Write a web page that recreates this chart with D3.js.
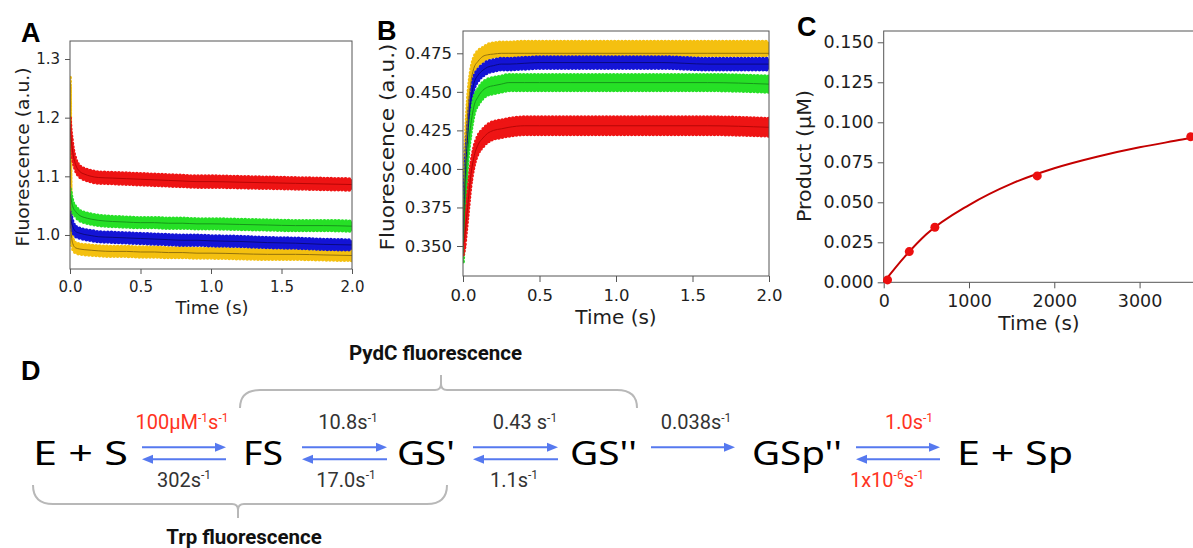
<!DOCTYPE html>
<html>
<head>
<meta charset="utf-8">
<script src="https://cdn.jsdelivr.net/npm/d3@7"></script>
<style>
  body { margin: 0; background: #fff; }
  svg { display: block; }
</style>
</head>
<body>
<svg id="fig" width="1193" height="548"></svg>
<script>
// ---- panel A: Trp fluorescence (stopped flow)
const timeA   = [0, 0.005, 0.01, 0.02, 0.04, 0.07, 0.1, 0.15, 0.2, 0.3, 0.4, 0.5, 0.6, 0.7, 0.8, 0.9, 1.0, 1.2, 1.4, 1.6, 1.8, 2.0]
const yellowA = [1.26, 1.05, 1.0, 0.985, 0.978, 0.976, 0.975, 0.974, 0.973, 0.972, 0.972, 0.971, 0.971, 0.970, 0.970, 0.969, 0.969, 0.968, 0.967, 0.967, 0.966, 0.965]
const blueA   = [1.04, 1.03, 1.022, 1.014, 1.006, 1.003, 1.001, 0.999, 0.997, 0.996, 0.995, 0.994, 0.993, 0.992, 0.991, 0.991, 0.990, 0.989, 0.987, 0.986, 0.984, 0.983]
const greenA  = [1.07, 1.065, 1.058, 1.048, 1.040, 1.033, 1.030, 1.027, 1.025, 1.023, 1.022, 1.021, 1.021, 1.020, 1.020, 1.019, 1.019, 1.018, 1.017, 1.016, 1.016, 1.015]
const redA    = [1.19, 1.17, 1.16, 1.14, 1.12, 1.108, 1.104, 1.100, 1.098, 1.097, 1.096, 1.095, 1.094, 1.093, 1.092, 1.091, 1.091, 1.090, 1.089, 1.088, 1.087, 1.086]
const spreadA = [0.008, 0.008, 0.008, 0.009]   // half width of the scatter band (yellow, blue, green, red)
const yTicksA = [1.0, 1.1, 1.2, 1.3]
const xTicks  = [0, 0.5, 1.0, 1.5, 2.0]

// ---- panel B: PydC fluorescence
const timeB      = [0, 0.01, 0.02, 0.03, 0.05, 0.07, 0.1, 0.13, 0.16, 0.2, 0.25, 0.3, 0.4, 0.5, 0.7, 1.0, 1.3, 1.6, 2.0]
const yellowB    = [0.360, 0.395, 0.420, 0.438, 0.458, 0.467, 0.472, 0.474, 0.476, 0.477, 0.4775, 0.4775, 0.478, 0.478, 0.478, 0.478, 0.478, 0.478, 0.478]
const yellowFitB = [0.355, 0.390, 0.415, 0.433, 0.455, 0.465, 0.470, 0.473, 0.474, 0.4745, 0.475, 0.475, 0.475, 0.475, 0.475, 0.475, 0.475, 0.475, 0.475]
const blueB      = [0.350, 0.380, 0.405, 0.420, 0.443, 0.455, 0.461, 0.464, 0.466, 0.467, 0.468, 0.468, 0.4685, 0.469, 0.469, 0.469, 0.469, 0.468, 0.468]
const greenB     = [0.345, 0.370, 0.395, 0.410, 0.428, 0.440, 0.447, 0.451, 0.453, 0.454, 0.455, 0.456, 0.456, 0.456, 0.456, 0.456, 0.456, 0.456, 0.455]
const redB       = [0.350, 0.355, 0.365, 0.375, 0.395, 0.407, 0.416, 0.420, 0.423, 0.425, 0.426, 0.427, 0.428, 0.428, 0.428, 0.428, 0.428, 0.428, 0.427]
const spreadB    = [0.0045, 0.0035, 0.005, 0.0055]
const yTicksB    = [0.350, 0.375, 0.400, 0.425, 0.450, 0.475]

// ---- panel C: product formation
const timeC    = [45, 300, 600, 1800, 3600]
const productC = [0.0015, 0.0192, 0.0344, 0.0665, 0.0910]
const fitTimeC = [0, 250, 500, 1000, 1500, 2000, 2500, 3000, 3500, 3700]
const fitC     = [0, 0.0162, 0.0300, 0.0483, 0.0617, 0.0713, 0.0785, 0.0844, 0.0892, 0.0912]
const yTicksC  = [0, 0.025, 0.05, 0.075, 0.1, 0.125, 0.15]
const xTicksC  = [0, 1000, 2000, 3000]

// ---- panel D: kinetic scheme
const species      = ["E + S", "FS", "GS'", "GS''", "GSp''", "E + Sp"]
const forwardRates = ["100µM{-1}s{-1}", "10.8s{-1}", "0.43 s{-1}", "0.038s{-1}", "1.0s{-1}"]
const reverseRates = ["302s{-1}", "17.0s{-1}", "1.1s{-1}", null, "1x10{-6}s{-1}"]
const forwardFixed = [true, false, false, false, true]   // shown in red
const reverseFixed = [false, false, false, false, true]

// colours
const bandColors = ["#f4c010", "#1414d6", "#26e026", "#ee1414"]
const fitColors  = ["#94720c", "#0a0a80", "#16961a", "#b80606"]
const arrowBlue  = "#5679ef"
const rateRed    = "#ff3322"
const bracketGray = "#b8b8b8"

const svg = d3.select("#fig")

function frame(g, x, y, yTicks, yFmt, xTicks, xFmt, f) {
  const [x0, x1] = x.range(), [y1, y0] = y.range()
  g.append("g")
    .attr("transform", `translate(${x0},0)`)
    .call(d3.axisLeft(y).tickValues(yTicks).tickFormat(d3.format(yFmt)).tickSize(f.tick).tickPadding(f.ypad).tickSizeOuter(0))
    .call(a => a.select(".domain").remove())
  g.append("g")
    .attr("transform", `translate(0,${y1})`)
    .call(d3.axisBottom(x).tickValues(xTicks).tickFormat(d3.format(xFmt)).tickSize(f.tick).tickPadding(f.xpad).tickSizeOuter(0))
    .call(a => a.select(".domain").remove())
  g.selectAll(".tick text").attr("font-family", "DejaVu Sans").attr("font-size", f.tickFont).attr("fill", "#1e1e1e")
  g.selectAll(".tick line").attr("stroke", "#555")
  g.append("rect")
    .attr("x", x0).attr("y", y0).attr("width", x1 - x0).attr("height", y1 - y0)
    .attr("fill", "none").attr("stroke", "#555").attr("stroke-width", 1)
}

function labels(g, xl, yl) {
  g.append("text").text("Time (s)")
    .attr("x", xl.x).attr("y", xl.y).attr("text-anchor", "middle")
    .attr("font-family", "DejaVu Sans").attr("font-size", xl.size).attr("fill", "#1e1e1e")
  g.append("text").text(yl.text)
    .attr("transform", `translate(${yl.x},${yl.y}) rotate(-90)`)
    .attr("text-anchor", "middle")
    .attr("textLength", yl.len).attr("lengthAdjust", "spacingAndGlyphs")
    .attr("font-family", "DejaVu Sans").attr("font-size", yl.size).attr("fill", "#1e1e1e")
}

function panelLetter(letter, x, y) {
  svg.append("text").text(letter).attr("x", x).attr("y", y)
    .attr("font-family", "Liberation Sans, Arial, sans-serif").attr("font-weight", "bold")
    .attr("font-size", 27).attr("fill", "#000")
}

function traces(g, id, x, y, times, centres, spreads, fits) {
  const [x0, x1] = x.range(), [y1, y0] = y.range()
  g.append("clipPath").attr("id", id)
    .append("rect").attr("x", x0).attr("y", y0).attr("width", x1 - x0).attr("height", y1 - y0)
  const plot = g.append("g").attr("clip-path", `url(#${id})`)
  centres.forEach((vals, i) => {
    const s = spreads[i]
    const area = d3.area().x((d, j) => x(times[j])).y0(d => y(d - s)).y1(d => y(d + s)).curve(d3.curveMonotoneX)
    plot.append("path").attr("d", area(vals)).attr("fill", bandColors[i])
    // dotted rim so the band edge reads like scattered markers
    ;[s, -s].forEach(off => {
      const edge = d3.line().x((d, j) => x(times[j])).y(d => y(d + off)).curve(d3.curveMonotoneX)
      plot.append("path").attr("d", edge(vals)).attr("fill", "none")
        .attr("stroke", bandColors[i]).attr("stroke-width", 4)
        .attr("stroke-linecap", "round").attr("stroke-dasharray", "0 3.6")
    })
  })
  fits.forEach((vals, i) => {
    const line = d3.line().x((d, j) => x(times[j])).y(d => y(d)).curve(d3.curveMonotoneX)
    plot.append("path").attr("d", line(vals)).attr("fill", "none")
      .attr("stroke", fitColors[i]).attr("stroke-width", 1)
  })
}

// ---------- A ----------
{
  const x = d3.scaleLinear().domain([0, 2]).range([70, 352])
  const y = d3.scaleLinear().domain([0.942, 1.3307]).range([269, 41])
  const g = svg.append("g")
  traces(g, "clipA", x, y, timeA, [yellowA, blueA, greenA, redA], spreadA, [yellowA, blueA, greenA, redA])
  frame(g, x, y, yTicksA, ".1f", xTicks, ".1f", { tick: 5, ypad: 5, xpad: 7, tickFont: 15 })
  labels(g, { x: 212, y: 314, size: 18 }, { text: "Fluorescence (a.u.)", x: 29, y: 157, len: 179, size: 18 })
  panelLetter("A", 21, 42)
}

// ---------- B ----------
{
  const x = d3.scaleLinear().domain([0, 2]).range([463, 769])
  const y = d3.scaleLinear().domain([0.33054, 0.48947]).range([276, 31])
  const g = svg.append("g")
  traces(g, "clipB", x, y, timeB, [yellowB, blueB, greenB, redB], spreadB, [yellowFitB, blueB, greenB, redB])
  frame(g, x, y, yTicksB, ".3f", xTicks, ".1f", { tick: 6, ypad: 5, xpad: 7, tickFont: 16.5 })
  labels(g, { x: 616, y: 324, size: 20 }, { text: "Fluorescence (a.u.)", x: 394, y: 147, len: 207, size: 20 })
  panelLetter("B", 377, 40)
}

// ---------- C ----------
{
  const x = d3.scaleLinear().domain([0, 3632]).range([883.7, 1193.5])
  const y = d3.scaleLinear().domain([0, 0.15706]).range([282.3, 31])
  const g = svg.append("g")
  frame(g, x, y, yTicksC, ".3f", xTicksC, "d", { tick: 6, ypad: 4, xpad: 6, tickFont: 17.5 })
  const line = d3.line().x((d, j) => x(fitTimeC[j])).y(d => y(d)).curve(d3.curveMonotoneX)
  g.append("path").attr("d", line(fitC)).attr("fill", "none").attr("stroke", "#c40000").attr("stroke-width", 2)
  g.selectAll("circle.pt").data(productC).join("circle").attr("class", "pt")
    .attr("cx", (d, j) => x(timeC[j])).attr("cy", d => y(d)).attr("r", 4.5).attr("fill", "#ec0f0f")
  labels(g, { x: 1039, y: 330, size: 20 }, { text: "Product (µM)", x: 811, y: 156, len: 132, size: 20 })
  panelLetter("C", 797, 36)
}

// ---------- D ----------
panelLetter("D", 21, 380)
{
  const g = svg.append("g")
  // layout of the scheme
  const speciesX   = [33, 243, 397, 570, 752, 957]
  const speciesW   = [95, 40, 58, 67, 90, 116]
  const arrowX     = [[142, 226], [302, 387], [473, 558], [651, 735], [856, 940]]
  const fwdLabelX  = [182, 348, 525, 696, 909]
  const revLabelX  = [184, 346, 514, null, 887]
  const baseY = 465, fwdY = 447.3, revY = 459.3

  g.selectAll("text.sp").data(species).join("text").attr("class", "sp")
    .text(d => d)
    .attr("x", (d, i) => speciesX[i]).attr("y", baseY)
    .attr("textLength", (d, i) => speciesW[i]).attr("lengthAdjust", "spacingAndGlyphs")
    .attr("font-family", "Noto Sans, Open Sans, sans-serif").attr("font-size", 33).attr("fill", "#000")

  const arrow = (xa, xb, yy, dir) => {
    const tip = dir > 0 ? xb : xa
    const l = dir > 0 ? [xa, xb - 8] : [xa + 8, xb]
    g.append("line").attr("x1", l[0]).attr("x2", l[1]).attr("y1", yy).attr("y2", yy)
      .attr("stroke", arrowBlue).attr("stroke-width", 2)
    g.append("path")
      .attr("d", `M${tip},${yy} L${tip - dir * 11},${yy - 4.5} L${tip - dir * 11},${yy + 4.5} Z`)
      .attr("fill", arrowBlue)
  }

  const rateText = (str, cx, yy, red) => {
    const t = g.append("text").attr("x", cx).attr("y", yy).attr("text-anchor", "middle")
      .attr("font-family", "Roboto, sans-serif").attr("font-size", 20)
      .attr("fill", red ? rateRed : "#333")
    str.split(/(\{[^}]*\})/).filter(s => s.length).forEach(part => {
      if (part.startsWith("{")) {
        t.append("tspan").text(part.slice(1, -1)).attr("font-size", 12).attr("dy", -7.5)
      } else {
        const sp = t.append("tspan").text(part)
        if (t.selectAll("tspan").size() > 1) sp.attr("dy", 7.5)
      }
    })
  }

  arrowX.forEach(([xa, xb], i) => {
    arrow(xa, xb, fwdY, 1)
    rateText(forwardRates[i], fwdLabelX[i], 429, forwardFixed[i])
    if (reverseRates[i]) {
      arrow(xa, xb, revY, -1)
      rateText(reverseRates[i], revLabelX[i], 486.5, reverseFixed[i])
    }
  })

  // curly brackets marking which steps each probe reports on
  const bracket = (xa, xb, yEnd, yLine, xn, yTip) => {
    const d = Math.sign(yLine - yEnd), r = 20, n = 6
    const p = d3.path()
    p.moveTo(xa, yEnd)
    p.quadraticCurveTo(xa, yLine, xa + r, yLine)
    p.lineTo(xn - n, yLine)
    p.quadraticCurveTo(xn, yLine, xn, yLine + d * n)
    p.lineTo(xn, yTip)
    p.moveTo(xb, yEnd)
    p.quadraticCurveTo(xb, yLine, xb - r, yLine)
    p.lineTo(xn + n, yLine)
    p.quadraticCurveTo(xn, yLine, xn, yLine + d * n)
    g.append("path").attr("d", p.toString()).attr("fill", "none")
      .attr("stroke", bracketGray).attr("stroke-width", 2)
  }
  bracket(240, 637, 408, 390, 441, 375)
  bracket(33, 447, 485, 504, 238, 518)

  const probe = (txt, cx, yy) => g.append("text").text(txt)
    .attr("x", cx).attr("y", yy).attr("text-anchor", "middle")
    .attr("font-family", "Roboto, sans-serif").attr("font-weight", "bold")
    .attr("font-size", 20.5).attr("fill", "#111")
  probe("PydC fluorescence", 435.5, 360)
  probe("Trp fluorescence", 244, 544)
}
</script>
</body>
</html>
